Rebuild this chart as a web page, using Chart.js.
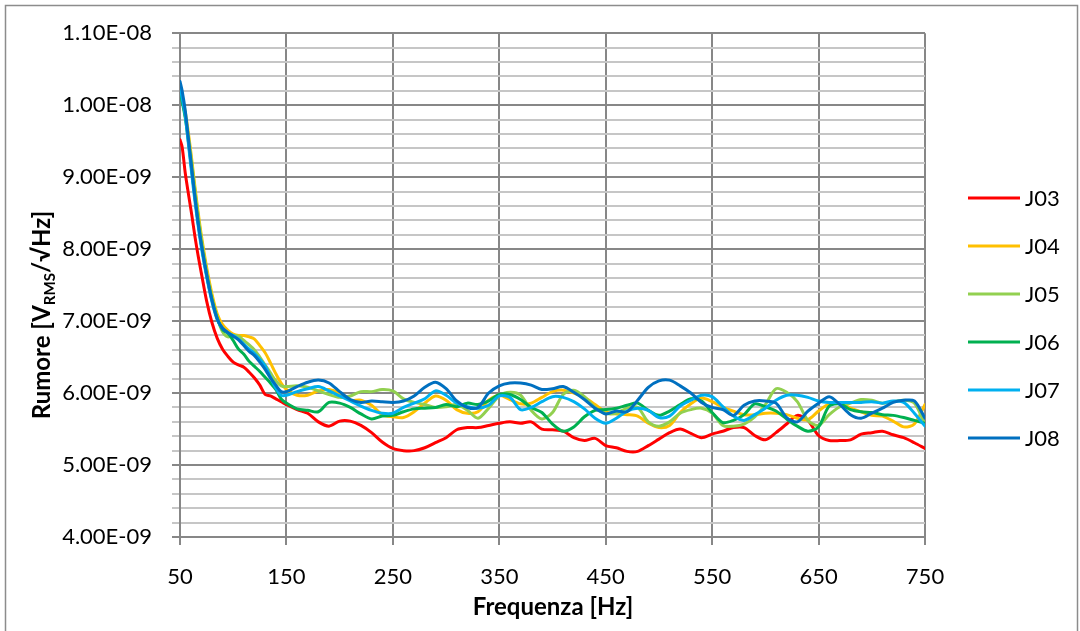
<!DOCTYPE html>
<html>
<head>
<meta charset="utf-8">
<script src="https://cdn.jsdelivr.net/npm/chart.js@4.4.1/dist/chart.umd.min.js"></script>
<style>
  html, body { margin: 0; padding: 0; background: #ffffff; }
  canvas { display: block; }
</style>
</head>
<body>
<canvas id="chart" width="1080" height="631"></canvas>
<script>
// Frequency points (Hz)
const freq = [50, 52, 55, 58, 61, 64, 67, 70, 75, 80, 85, 90, 95, 100, 105, 110, 115, 120, 125, 130, 135, 140, 145, 150,
  160, 170, 180, 190, 200, 210, 220, 230, 240, 250, 260, 270, 280, 290, 300, 310, 320, 330, 340, 350,
  360, 370, 380, 390, 400, 410, 420, 430, 440, 450, 460, 470, 480, 490, 500, 510, 520, 530, 540, 550,
  560, 570, 580, 590, 600, 610, 620, 630, 640, 650, 660, 670, 680, 690, 700, 710, 720, 730, 740, 750];

// Noise density per channel, in nV/√Hz (1 nV = 1E-09 V)
const j03 = [9.52, 9.42, 9.05, 8.76, 8.48, 8.18, 7.91, 7.67, 7.28, 6.98, 6.76, 6.61, 6.51, 6.43, 6.39, 6.36, 6.29, 6.21, 6.11, 5.98, 5.96, 5.92, 5.88, 5.84,
  5.77, 5.72, 5.60, 5.54, 5.61, 5.61, 5.55, 5.45, 5.32, 5.23, 5.20, 5.20, 5.24, 5.31, 5.38, 5.49, 5.52, 5.52, 5.55, 5.58,
  5.60, 5.58, 5.60, 5.50, 5.49, 5.47, 5.38, 5.34, 5.37, 5.27, 5.24, 5.19, 5.19, 5.27, 5.36, 5.45, 5.50, 5.44, 5.38, 5.43,
  5.47, 5.52, 5.52, 5.41, 5.35, 5.45, 5.57, 5.69, 5.62, 5.41, 5.34, 5.34, 5.35, 5.43, 5.45, 5.47, 5.42, 5.38, 5.31, 5.23];
const j04 = [10.22, 10.12, 9.90, 9.60, 9.25, 8.87, 8.52, 8.20, 7.75, 7.38, 7.10, 6.95, 6.87, 6.82, 6.80, 6.80, 6.78, 6.75, 6.66, 6.56, 6.42, 6.27, 6.14, 6.05,
  5.97, 5.97, 6.03, 6.05, 6.00, 5.90, 5.90, 5.83, 5.70, 5.67, 5.66, 5.74, 5.86, 5.96, 5.90, 5.77, 5.72, 5.74, 5.90, 5.97,
  5.91, 5.85, 5.86, 5.94, 6.02, 6.04, 6.00, 5.94, 5.84, 5.74, 5.71, 5.70, 5.68, 5.58, 5.52, 5.55, 5.73, 5.85, 5.93, 5.88,
  5.80, 5.75, 5.70, 5.70, 5.72, 5.72, 5.70, 5.65, 5.63, 5.75, 5.85, 5.86, 5.79, 5.74, 5.69, 5.68, 5.61, 5.53, 5.57, 5.84];
const j05 = [10.20, 10.08, 9.85, 9.55, 9.20, 8.82, 8.47, 8.15, 7.70, 7.33, 7.05, 6.85, 6.78, 6.80, 6.79, 6.73, 6.67, 6.60, 6.50, 6.39, 6.28, 6.17, 6.10, 6.09,
  6.10, 6.08, 6.03, 5.98, 5.94, 5.96, 6.02, 6.02, 6.05, 6.03, 5.92, 5.87, 5.84, 5.80, 5.81, 5.84, 5.76, 5.65, 5.79, 5.96,
  6.01, 5.97, 5.76, 5.64, 5.73, 5.98, 6.04, 5.95, 5.80, 5.72, 5.72, 5.79, 5.80, 5.60, 5.54, 5.60, 5.72, 5.77, 5.79, 5.72,
  5.55, 5.54, 5.57, 5.67, 5.84, 6.06, 6.01, 5.88, 5.62, 5.55, 5.70, 5.81, 5.86, 5.91, 5.90, 5.86, 5.88, 5.90, 5.86, 5.56];
const j06 = [10.20, 10.05, 9.82, 9.48, 9.10, 8.72, 8.38, 8.07, 7.64, 7.30, 7.04, 6.88, 6.83, 6.73, 6.61, 6.54, 6.44, 6.37, 6.30, 6.22, 6.14, 6.05, 5.92, 5.86,
  5.78, 5.76, 5.74, 5.87, 5.86, 5.80, 5.71, 5.64, 5.68, 5.69, 5.74, 5.78, 5.79, 5.80, 5.84, 5.81, 5.86, 5.84, 5.89, 5.98,
  5.98, 5.91, 5.80, 5.73, 5.57, 5.47, 5.53, 5.67, 5.76, 5.77, 5.79, 5.83, 5.86, 5.76, 5.69, 5.75, 5.84, 5.92, 5.89, 5.73,
  5.59, 5.62, 5.70, 5.85, 5.81, 5.75, 5.64, 5.54, 5.47, 5.53, 5.82, 5.85, 5.77, 5.74, 5.73, 5.70, 5.69, 5.66, 5.62, 5.58];
const j07 = [10.25, 10.10, 9.85, 9.45, 9.05, 8.67, 8.33, 8.03, 7.62, 7.27, 7.02, 6.90, 6.84, 6.80, 6.75, 6.68, 6.61, 6.55, 6.47, 6.38, 6.22, 6.07, 5.97, 5.97,
  6.02, 6.06, 6.09, 6.03, 5.96, 5.89, 5.82, 5.76, 5.72, 5.72, 5.80, 5.86, 5.92, 6.03, 5.97, 5.86, 5.81, 5.79, 5.83, 5.96,
  5.94, 5.77, 5.80, 5.88, 5.95, 5.94, 5.88, 5.78, 5.65, 5.58, 5.65, 5.75, 5.79, 5.76, 5.66, 5.68, 5.82, 5.90, 5.97, 5.95,
  5.81, 5.68, 5.62, 5.70, 5.79, 5.90, 5.97, 5.97, 5.94, 5.89, 5.87, 5.87, 5.87, 5.87, 5.88, 5.86, 5.89, 5.87, 5.72, 5.54];
const j08 = [10.33, 10.20, 9.92, 9.52, 9.12, 8.73, 8.37, 8.07, 7.65, 7.29, 7.03, 6.90, 6.84, 6.79, 6.74, 6.66, 6.58, 6.52, 6.43, 6.33, 6.21, 6.11, 6.02, 6.02,
  6.09, 6.15, 6.18, 6.14, 6.02, 5.91, 5.87, 5.89, 5.88, 5.87, 5.89, 5.96, 6.08, 6.15, 6.06, 5.89, 5.80, 5.80, 6.00, 6.10,
  6.14, 6.14, 6.11, 6.05, 6.06, 6.09, 6.01, 5.91, 5.79, 5.71, 5.75, 5.74, 5.90, 6.08, 6.17, 6.18, 6.10, 6.00, 5.87, 5.80,
  5.77, 5.69, 5.83, 5.89, 5.89, 5.86, 5.66, 5.60, 5.75, 5.86, 5.95, 5.84, 5.70, 5.65, 5.72, 5.79, 5.87, 5.90, 5.89, 5.65];

const seriesNames = ['J03', 'J04', 'J05', 'J06', 'J07', 'J08'];
const seriesColors = ['#ff0000', '#ffc000', '#92d050', '#00b050', '#00b0f0', '#0070c0'];

const xTickValues = [50, 150, 250, 350, 450, 550, 650, 750];
const xTickLabels = ['50', '150', '250', '350', '450', '550', '650', '750'];
const yTickValues = [4, 5, 6, 7, 8, 9, 10, 11];
const yTickLabels = ['4.00E-09', '5.00E-09', '6.00E-09', '7.00E-09', '8.00E-09', '9.00E-09', '1.00E-08', '1.10E-08'];
const yMinorStep = 0.2;

const FONT = 'Lato, "Open Sans", sans-serif';
const MAJOR_GRID = '#878787';
const MINOR_GRID = '#c6c6c6';

const isMajorY = v => yTickValues.some(m => Math.abs(m - v) < 1e-6);

const allSeries = [j03, j04, j05, j06, j07, j08];
const datasets = allSeries.map((vals, i) => ({
  label: seriesNames[i],
  data: freq.map((f, k) => ({ x: f, y: vals[k] })),
  borderColor: seriesColors[i],
  backgroundColor: seriesColors[i],
  borderWidth: 3,
  pointRadius: 0,
  tension: 0.3,
  fill: false,
  borderJoinStyle: 'round',
  borderCapStyle: 'round',
  order: allSeries.length - 1 - i   // later channels are drawn on top
}));

// Axis titles, legend and frame
const decorations = {
  id: 'decorations',
  afterDraw(chart) {
    const ctx = chart.ctx;
    ctx.save();

    // outer frame
    ctx.strokeStyle = '#8c8c8c';
    ctx.lineWidth = 1.5;
    ctx.strokeRect(5.5, 5.5, 1072, 640);

    ctx.fillStyle = '#000';

    // x title
    ctx.font = 'bold 24px ' + FONT;
    ctx.textAlign = 'center';
    ctx.textBaseline = 'middle';
    ctx.fillText('Frequenza [Hz]', 553, 607);

    // y title with subscript
    const parts = [
      { t: 'Rumore [V', f: 'bold 24px ' + FONT, dy: 0 },
      { t: 'RMS', f: 'bold 15px ' + FONT, dy: 5 },
      { t: '/√Hz]', f: 'bold 24px ' + FONT, dy: 0 }
    ];
    let total = 0;
    parts.forEach(p => { ctx.font = p.f; p.w = ctx.measureText(p.t).width; total += p.w; });
    ctx.translate(42, 315);
    ctx.rotate(-Math.PI / 2);
    ctx.textAlign = 'left';
    ctx.textBaseline = 'alphabetic';
    let px = -total / 2;
    parts.forEach(p => {
      ctx.font = p.f;
      ctx.fillText(p.t, px, 8 + p.dy);
      px += p.w;
    });
    ctx.setTransform(1, 0, 0, 1, 0, 0);

    // legend
    ctx.font = '22px ' + FONT;
    ctx.textAlign = 'left';
    ctx.textBaseline = 'middle';
    chart.data.datasets.forEach((ds, i) => {
      const y = 198 + i * 48;
      ctx.strokeStyle = ds.borderColor;
      ctx.lineWidth = 3;
      ctx.beginPath();
      ctx.moveTo(968, y);
      ctx.lineTo(1020, y);
      ctx.stroke();
      ctx.fillStyle = '#000';
      ctx.fillText(ds.label, 1025, y + 1);
    });

    ctx.restore();
  }
};

new Chart(document.getElementById('chart'), {
  type: 'line',
  data: { datasets },
  options: {
    responsive: false,
    animation: false,
    layout: { padding: { top: 27, right: 155, left: 0, bottom: 0 } },
    plugins: {
      legend: { display: false },
      tooltip: { enabled: false },
      title: { display: false }
    },
    scales: {
      x: {
        type: 'linear',
        min: 50,
        max: 750,
        afterBuildTicks: s => { s.ticks = xTickValues.map(v => ({ value: v })); },
        afterFit: s => { s.height = 94; },
        ticks: {
          autoSkip: false,
          maxRotation: 0,
          padding: 19,
          color: '#000',
          font: { family: FONT, size: 22 },
          callback: v => { const i = xTickValues.indexOf(v); return i >= 0 ? xTickLabels[i] : ''; }
        },
        grid: { color: MAJOR_GRID, lineWidth: 2, tickLength: 8, tickColor: MAJOR_GRID },
        border: { color: MAJOR_GRID, width: 2 }
      },
      y: {
        type: 'linear',
        min: 4,
        max: 11,
        afterBuildTicks: s => {
          const t = [];
          for (let v = s.min; v <= s.max + 1e-9; v += yMinorStep) t.push({ value: Math.round(v * 10) / 10 });
          s.ticks = t;
        },
        afterFit: s => { s.width = 180; },
        ticks: {
          autoSkip: false,
          padding: 20,
          color: '#000',
          font: { family: FONT, size: 22 },
          callback: v => { const i = yTickValues.findIndex(m => Math.abs(m - v) < 1e-6); return i >= 0 ? yTickLabels[i] : ''; }
        },
        grid: {
          color: c => isMajorY(c.tick.value) ? MAJOR_GRID : MINOR_GRID,
          tickColor: c => isMajorY(c.tick.value) ? MAJOR_GRID : MINOR_GRID,
          lineWidth: 2,
          tickLength: 8
        },
        border: { color: MAJOR_GRID, width: 2 }
      }
    }
  },
  plugins: [decorations]
});
</script>
</body>
</html>
